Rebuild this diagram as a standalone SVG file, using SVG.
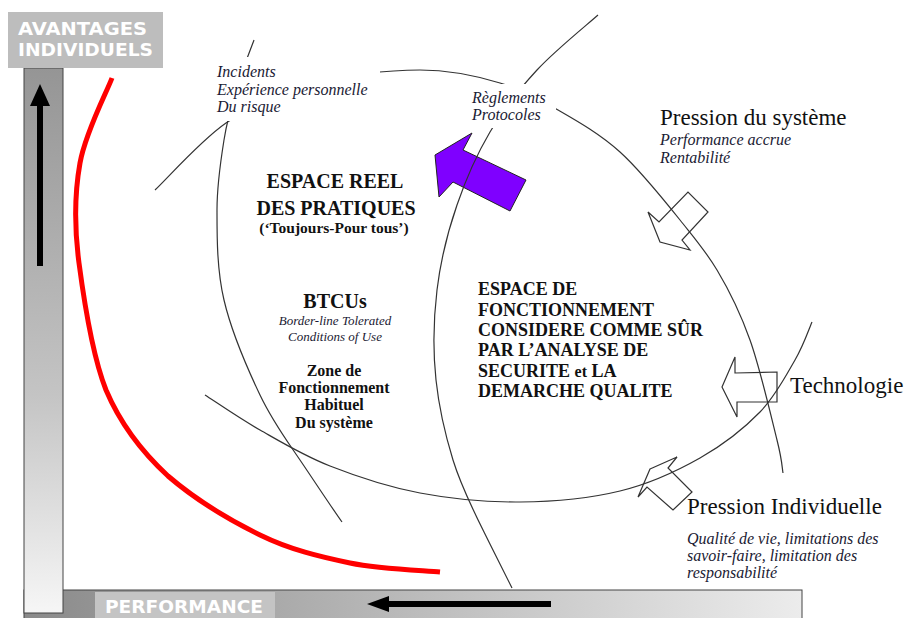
<svg xmlns="http://www.w3.org/2000/svg" width="908" height="618" viewBox="0 0 908 618">
<style>
.arc{fill:none;stroke:#333;stroke-width:1.2}
.hollow{fill:#fff;stroke:#333;stroke-width:1.2;stroke-linejoin:miter}
.it{font-family:"Liberation Serif",serif;font-style:italic;font-size:16px;fill:#1a1a33}
.rg{font-family:"Liberation Serif",serif;font-size:23px;fill:#111}
.bd{font-family:"Liberation Serif",serif;font-weight:bold;fill:#111;text-anchor:middle}
.bl{font-family:"Liberation Serif",serif;font-weight:bold;fill:#111;font-size:18px}
.lbl{font-family:"DejaVu Sans",sans-serif;font-weight:bold;fill:#fff;font-size:18px}
</style>
<defs>
<linearGradient id="gv" x1="0" y1="0" x2="0" y2="1">
<stop offset="0" stop-color="#959595"/><stop offset="0.6" stop-color="#c4c4c4"/><stop offset="1" stop-color="#f6f6f6"/>
</linearGradient>
<linearGradient id="gh" x1="0" y1="0" x2="1" y2="0">
<stop offset="0" stop-color="#8a8a8a"/><stop offset="1" stop-color="#ececec"/>
</linearGradient>
<mask id="txtmask" maskUnits="userSpaceOnUse" x="0" y="0" width="908" height="618">
<rect x="0" y="0" width="908" height="618" fill="#fff"/>
<rect x="210" y="57" width="170" height="64" fill="#000"/>
<rect x="466" y="84" width="90" height="44" fill="#000"/>
</mask>
</defs>

<g id="axis-performance">
<rect x="24" y="590" width="778" height="30" fill="url(#gh)" stroke="#444" stroke-width="1"/>
<rect x="95" y="592" width="180" height="26" fill="#c4c4c4"/>
<text class="lbl" x="105" y="613" textLength="158" lengthAdjust="spacingAndGlyphs">PERFORMANCE</text>
<rect x="385" y="601" width="166" height="6" fill="#000"/>
<polygon points="367,604 389,596 389,612" fill="#000"/>
</g>

<g id="axis-avantages">
<rect x="24" y="68" width="39" height="545" fill="url(#gv)" stroke="#444" stroke-width="1"/>
<rect x="8" y="12" width="155" height="56" fill="#bdbdbd"/>
<text class="lbl" x="18" y="35" textLength="129" lengthAdjust="spacingAndGlyphs">AVANTAGES</text>
<text class="lbl" x="18" y="56" textLength="135" lengthAdjust="spacingAndGlyphs">INDIVIDUELS</text>
<rect x="37" y="103" width="6" height="163" fill="#000"/>
<polygon points="40,84 30,106 50,106" fill="#000"/>
</g>

<g id="limite-rouge">
<path d="M112,78 C106.7,92.2 85.5,132.2 80,163 C74.5,193.8 74,225.2 79,263 C84,300.8 92,354.7 106,390 C121,425.3 142,452 168,476 C195,499.2 230,520.3 260,535 C290,549.7 320,556.8 350,563 C380,569.2 425,570.5 440,572" fill="none" stroke="#ff0000" stroke-width="5"/>
</g>

<g id="fleche-regles">
<polygon points="435,155 472,133 463,150 526,180 510,211 453,182 439,197" fill="#7f00ff" stroke="#222" stroke-width="1"/>
</g>

<g id="fleche-systeme">
<polygon class="hollow" points="648,212 660,242 690,250 682,240 708,212 688,192 659,222"/>
</g>
<g id="fleche-technologie">
<polygon class="hollow" points="722,387 735,357 735,373 777,372 777,402 737,402 737,417"/>
</g>
<g id="fleche-individuelle">
<polygon class="hollow" points="650,469 677,457 668,468 692,492 673,510 647,487 638,497"/>
</g>

<g id="connectors" mask="url(#txtmask)">
<path class="arc" d="M155,190 C167,179 200,141 226,123 C252,105 278,93 310,84 C342,75 388,70 420,70 C452,70 477,76 500,83 C523,90 538,98.5 558,110 C578,121.5 600,134 620,152 C640,170 664,200 680,220 C696,240 705,250 717,270 C729,290 740,312 750,340 C760,368 771.5,418 777,440 C782.5,462 782,467.5 783,473"/>
<path class="arc" d="M598,15 C588,24 555,50.5 537,70 C519,89.5 503,109.5 490,132 C476.7,154.5 466,178.7 457,205 C448,231 440.5,261 437,290 C433.5,319 433,352 436,380 C439,408 445,434 453,460 C461,486 474,512 484,532 C494,552 505,574 512,588"/>
<path class="arc" d="M254,40 C251,48.3 241,73.3 236,90 C231,106.7 227.2,120 224,140 C220.8,160 217,183.3 217,210 C217,236.7 216.8,269.2 224,300 C231.2,330.8 247.3,368.3 260,395 C272.7,421.7 285.3,438.3 300,460 C314.7,481.7 332,508 342,522"/>
<path class="arc" d="M205,395 C214.2,400.8 239.2,418.2 260,430 C280.8,441.8 303.3,455.5 330,466 C356.7,476.5 388.3,487 420,493 C451.7,499 486.7,502.3 520,502 C553.3,501.7 590,498.3 620,491 C650,483.7 676.7,471.2 700,458 C723.3,444.8 744.2,428.3 760,412 C775.8,395.7 786.3,375 795,360 C803.7,345 809.2,328.3 812,322"/>
</g>

<g id="facteurs-individuels">
<text class="it" x="217" y="77">Incidents</text>
<text class="it" x="217" y="95">Expérience personnelle</text>
<text class="it" x="217" y="112">Du risque</text>
</g>

<g id="reglements">
<text class="it" x="472" y="103">Règlements</text>
<text class="it" x="472" y="120">Protocoles</text>
</g>

<g id="pression-systeme">
<text class="rg" x="660" y="125">Pression du système</text>
<text class="it" x="660" y="145">Performance accrue</text>
<text class="it" x="660" y="163">Rentabilité</text>
</g>

<g id="technologie">
<text class="rg" x="790" y="393">Technologie</text>
</g>

<g id="pression-individuelle">
<text class="rg" x="687" y="514">Pression Individuelle</text>
<text class="it" x="687" y="544">Qualité de vie, limitations des</text>
<text class="it" x="687" y="561">savoir-faire, limitation des</text>
<text class="it" x="687" y="578">responsabilité</text>
</g>

<g id="espace-reel">
<text class="bd" x="335" y="188" font-size="20">ESPACE REEL</text>
<text class="bd" x="336" y="215" font-size="20">DES PRATIQUES</text>
<text class="bd" x="334" y="233" font-size="15.5">(‘Toujours-Pour tous’)</text>
</g>

<g id="btcus">
<text class="bd" x="335" y="308" font-size="20">BTCUs</text>
<text class="it" x="335" y="325" text-anchor="middle" style="font-size:13px">Border-line Tolerated</text>
<text class="it" x="335" y="341" text-anchor="middle" style="font-size:13px">Conditions of Use</text>
<text class="bd" x="334" y="376" font-size="16">Zone de</text>
<text class="bd" x="334" y="393" font-size="16">Fonctionnement</text>
<text class="bd" x="334" y="410" font-size="16">Habituel</text>
<text class="bd" x="334" y="428" font-size="16">Du système</text>
</g>

<g id="espace-fonctionnement">
<text class="bl" x="478" y="295">ESPACE DE</text>
<text class="bl" x="478" y="316">FONCTIONNEMENT</text>
<text class="bl" x="478" y="336">CONSIDERE COMME SÛR</text>
<text class="bl" x="478" y="356">PAR L’ANALYSE DE</text>
<text class="bl" x="478" y="377">SECURITE <tspan font-size="16">et</tspan> LA</text>
<text class="bl" x="478" y="397">DEMARCHE QUALITE</text>
</g>
</svg>
